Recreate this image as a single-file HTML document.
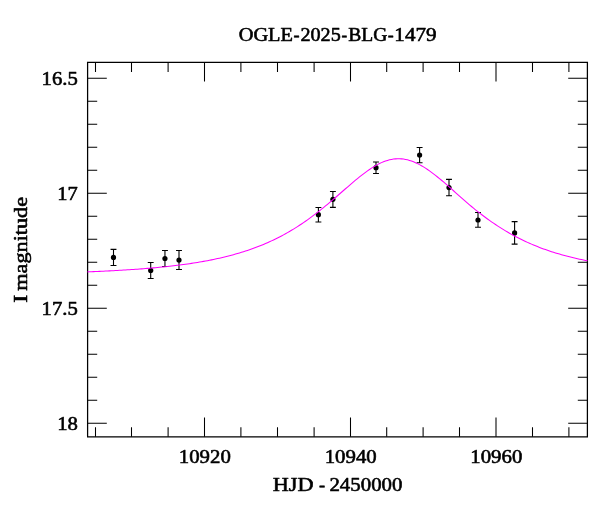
<!DOCTYPE html>
<html><head><meta charset="utf-8"><title>OGLE-2025-BLG-1479</title>
<style>
html,body{margin:0;padding:0;background:#fff;}
body{width:600px;height:512px;overflow:hidden;}
svg{display:block;will-change:transform;}
text{font-family:"Liberation Serif",serif;font-size:18.9px;fill:#000;stroke:#000;stroke-width:0.58px;stroke-linejoin:round;}
</style></head><body>
<svg width="600" height="512" viewBox="0 0 600 512">
<g stroke="#000" stroke-width="1.05" fill="none">
<path d="M87.6 62.3H587.4V436.75H87.6Z" stroke-width="1.25" stroke-linejoin="miter"/>
<path d="M95.5 436.75v-9.6M95.5 62.3v9.6"/>
<path d="M131.5 436.75v-9.6M131.5 62.3v9.6"/>
<path d="M168.1 436.75v-9.6M168.1 62.3v9.6"/>
<path d="M204.5 436.75v-19.2M204.5 62.3v19.2"/>
<path d="M240.9 436.75v-9.6M240.9 62.3v9.6"/>
<path d="M277.5 436.75v-9.6M277.5 62.3v9.6"/>
<path d="M314.1 436.75v-9.6M314.1 62.3v9.6"/>
<path d="M350.5 436.75v-19.2M350.5 62.3v19.2"/>
<path d="M386.7 436.75v-9.6M386.7 62.3v9.6"/>
<path d="M423.1 436.75v-9.6M423.1 62.3v9.6"/>
<path d="M459.5 436.75v-9.6M459.5 62.3v9.6"/>
<path d="M496.0 436.75v-19.2M496.0 62.3v19.2"/>
<path d="M532.5 436.75v-9.6M532.5 62.3v9.6"/>
<path d="M568.9 436.75v-9.6M568.9 62.3v9.6"/>
<path d="M87.6 78.3h19.2M587.4 78.3h-19.2"/>
<path d="M87.6 101.3h9.6M587.4 101.3h-9.6"/>
<path d="M87.6 124.3h9.6M587.4 124.3h-9.6"/>
<path d="M87.6 147.3h9.6M587.4 147.3h-9.6"/>
<path d="M87.6 170.3h9.6M587.4 170.3h-9.6"/>
<path d="M87.6 193.3h19.2M587.4 193.3h-19.2"/>
<path d="M87.6 216.3h9.6M587.4 216.3h-9.6"/>
<path d="M87.6 239.3h9.6M587.4 239.3h-9.6"/>
<path d="M87.6 262.3h9.6M587.4 262.3h-9.6"/>
<path d="M87.6 285.3h9.6M587.4 285.3h-9.6"/>
<path d="M87.6 308.3h19.2M587.4 308.3h-19.2"/>
<path d="M87.6 331.3h9.6M587.4 331.3h-9.6"/>
<path d="M87.6 354.3h9.6M587.4 354.3h-9.6"/>
<path d="M87.6 377.3h9.6M587.4 377.3h-9.6"/>
<path d="M87.6 400.3h9.6M587.4 400.3h-9.6"/>
<path d="M87.6 423.3h19.2M587.4 423.3h-19.2"/>
</g>
<g stroke="#000" stroke-width="1.1" fill="none">
<path d="M113.5 249.4V265.45M110.55 249.4h5.9M110.55 265.45h5.9"/>
<path d="M150.7 262.5V278.5M147.75 262.5h5.9M147.75 278.5h5.9"/>
<path d="M164.95 250.5V266.5M162.0 250.5h5.9M162.0 266.5h5.9"/>
<path d="M179.0 250.5V269.5M176.05 250.5h5.9M176.05 269.5h5.9"/>
<path d="M318.4 207.5V222.0M315.45 207.5h5.9M315.45 222.0h5.9"/>
<path d="M332.9 191.5V207.35M329.95 191.5h5.9M329.95 207.35h5.9"/>
<path d="M376.0 162.0V173.5M373.05 162.0h5.9M373.05 173.5h5.9"/>
<path d="M419.6 147.45V162.7M416.65000000000003 147.45h5.9M416.65000000000003 162.7h5.9"/>
<path d="M449.0 179.4V195.7M446.05 179.4h5.9M446.05 195.7h5.9"/>
<path d="M478.0 212.5V227.3M475.05 212.5h5.9M475.05 227.3h5.9"/>
<path d="M514.6 221.6V244.1M511.65000000000003 221.6h5.9M511.65000000000003 244.1h5.9"/>
</g>
<g fill="#000">
<circle cx="113.5" cy="257.45" r="2.6"/>
<circle cx="150.7" cy="270.45" r="2.6"/>
<circle cx="164.95" cy="258.5" r="2.6"/>
<circle cx="179.0" cy="260.1" r="2.6"/>
<circle cx="318.4" cy="214.7" r="2.6"/>
<circle cx="332.9" cy="199.3" r="2.6"/>
<circle cx="376.0" cy="167.7" r="2.6"/>
<circle cx="419.6" cy="155.1" r="2.6"/>
<circle cx="449.0" cy="187.6" r="2.6"/>
<circle cx="478.0" cy="220.0" r="2.6"/>
<circle cx="514.6" cy="232.9" r="2.6"/>
</g>
<path d="M87.5 271.86 L89.5 271.79 L91.5 271.70 L93.5 271.62 L95.5 271.54 L97.5 271.45 L99.5 271.36 L101.5 271.27 L103.5 271.18 L105.5 271.08 L107.5 270.98 L109.5 270.88 L111.5 270.78 L113.5 270.67 L115.5 270.56 L117.5 270.45 L119.5 270.34 L121.5 270.22 L123.5 270.10 L125.5 269.98 L127.5 269.85 L129.5 269.72 L131.5 269.59 L133.5 269.45 L135.5 269.31 L137.5 269.17 L139.5 269.02 L141.5 268.87 L143.5 268.71 L145.5 268.55 L147.5 268.39 L149.5 268.22 L151.5 268.04 L153.5 267.87 L155.5 267.68 L157.5 267.50 L159.5 267.30 L161.5 267.10 L163.5 266.90 L165.5 266.69 L167.5 266.48 L169.5 266.25 L171.5 266.03 L173.5 265.79 L175.5 265.55 L177.5 265.31 L179.5 265.05 L181.5 264.79 L183.5 264.53 L185.5 264.25 L187.5 263.97 L189.5 263.67 L191.5 263.38 L193.5 263.07 L195.5 262.75 L197.5 262.42 L199.5 262.09 L201.5 261.74 L203.5 261.39 L205.5 261.03 L207.5 260.65 L209.5 260.26 L211.5 259.87 L213.5 259.46 L215.5 259.04 L217.5 258.61 L219.5 258.16 L221.5 257.71 L223.5 257.24 L225.5 256.75 L227.5 256.25 L229.5 255.74 L231.5 255.21 L233.5 254.67 L235.5 254.11 L237.5 253.54 L239.5 252.95 L241.5 252.34 L243.5 251.72 L245.5 251.08 L247.5 250.42 L249.5 249.74 L251.5 249.04 L253.5 248.32 L255.5 247.58 L257.5 246.82 L259.5 246.04 L261.5 245.24 L263.5 244.42 L265.5 243.57 L267.5 242.70 L269.5 241.81 L271.5 240.89 L273.5 239.95 L275.5 238.98 L277.5 237.99 L279.5 236.97 L281.5 235.93 L283.5 234.86 L285.5 233.76 L287.5 232.63 L289.5 231.48 L291.5 230.30 L293.5 229.09 L295.5 227.85 L297.5 226.59 L299.5 225.29 L301.5 223.97 L303.5 222.61 L305.5 221.23 L307.5 219.82 L309.5 218.38 L311.5 216.92 L313.5 215.43 L315.5 213.91 L317.5 212.36 L319.5 210.79 L321.5 209.20 L323.5 207.58 L325.5 205.94 L327.5 204.28 L329.5 202.61 L331.5 200.91 L333.5 199.20 L335.5 197.48 L337.5 195.75 L339.5 194.01 L341.5 192.26 L343.5 190.52 L345.5 188.77 L347.5 187.03 L349.5 185.30 L351.5 183.59 L353.5 181.89 L355.5 180.21 L357.5 178.56 L359.5 176.93 L361.5 175.35 L363.5 173.81 L365.5 172.31 L367.5 170.86 L369.5 169.48 L371.5 168.15 L373.5 166.89 L375.5 165.71 L377.5 164.60 L379.5 163.57 L381.5 162.64 L383.5 161.79 L385.5 161.05 L387.5 160.40 L389.5 159.85 L391.5 159.41 L393.5 159.08 L395.5 158.86 L397.5 158.75 L399.5 158.75 L401.5 158.86 L403.5 159.09 L405.5 159.42 L407.5 159.86 L409.5 160.41 L411.5 161.06 L413.5 161.81 L415.5 162.66 L417.5 163.60 L419.5 164.62 L421.5 165.73 L423.5 166.92 L425.5 168.18 L427.5 169.51 L429.5 170.90 L431.5 172.34 L433.5 173.84 L435.5 175.39 L437.5 176.97 L439.5 178.59 L441.5 180.25 L443.5 181.94 L445.5 183.66 L447.5 185.41 L449.5 187.17 L451.5 188.95 L453.5 190.74 L455.5 192.53 L457.5 194.32 L459.5 196.11 L461.5 197.89 L463.5 199.65 L465.5 201.40 L467.5 203.13 L469.5 204.83 L471.5 206.51 L473.5 208.17 L475.5 209.79 L477.5 211.38 L479.5 212.95 L481.5 214.49 L483.5 216.01 L485.5 217.50 L487.5 218.97 L489.5 220.41 L491.5 221.81 L493.5 223.19 L495.5 224.55 L497.5 225.87 L499.5 227.16 L501.5 228.43 L503.5 229.67 L505.5 230.88 L507.5 232.06 L509.5 233.21 L511.5 234.34 L513.5 235.43 L515.5 236.50 L517.5 237.55 L519.5 238.57 L521.5 239.56 L523.5 240.52 L525.5 241.46 L527.5 242.38 L529.5 243.27 L531.5 244.14 L533.5 244.99 L535.5 245.81 L537.5 246.61 L539.5 247.39 L541.5 248.15 L543.5 248.89 L545.5 249.61 L547.5 250.30 L549.5 250.98 L551.5 251.64 L553.5 252.28 L555.5 252.91 L557.5 253.51 L559.5 254.10 L561.5 254.68 L563.5 255.23 L565.5 255.78 L567.5 256.30 L569.5 256.81 L571.5 257.31 L573.5 257.80 L575.5 258.27 L577.5 258.72 L579.5 259.17 L581.5 259.60 L583.5 260.02 L585.5 260.43 L587.5 260.82" fill="none" stroke="#ff00ff" stroke-width="1.05"/>
<text x="238.73" y="40.7" textLength="54.25" lengthAdjust="spacingAndGlyphs">OGLE</text>
<text x="293.52" y="40.7" textLength="6.06" lengthAdjust="spacingAndGlyphs">-</text>
<text x="300.44" y="40.7" textLength="40.32" lengthAdjust="spacingAndGlyphs">2025</text>
<text x="341.56" y="40.7" textLength="5.68" lengthAdjust="spacingAndGlyphs">-</text>
<text x="348.27" y="40.7" textLength="39.06" lengthAdjust="spacingAndGlyphs">BLG</text>
<text x="387.73" y="40.7" textLength="5.94" lengthAdjust="spacingAndGlyphs">-</text>
<text x="394.39" y="40.7" textLength="42.21" lengthAdjust="spacingAndGlyphs">1479</text>
<text x="272.80" y="490.75" textLength="40.69" lengthAdjust="spacingAndGlyphs">HJD</text>
<text x="319.01" y="490.75" textLength="6.13" lengthAdjust="spacingAndGlyphs">-</text>
<text x="329.41" y="490.75" textLength="73.03" lengthAdjust="spacingAndGlyphs">2450000</text>
<text x="41.63" y="85.05" textLength="36.23" lengthAdjust="spacingAndGlyphs">16.5</text>
<text x="57.25" y="200.05" textLength="20.51" lengthAdjust="spacingAndGlyphs">17</text>
<text x="41.63" y="315.05" textLength="36.23" lengthAdjust="spacingAndGlyphs">17.5</text>
<text x="57.22" y="430.05" textLength="20.76" lengthAdjust="spacingAndGlyphs">18</text>
<text x="178.82" y="462.7" textLength="52.02" lengthAdjust="spacingAndGlyphs">10920</text>
<text x="324.72" y="462.7" textLength="52.02" lengthAdjust="spacingAndGlyphs">10940</text>
<text x="470.32" y="462.7" textLength="52.02" lengthAdjust="spacingAndGlyphs">10960</text>
<g transform="translate(26.55 0) rotate(-90)">
<text x="-302.80" y="0" textLength="7.99" lengthAdjust="spacingAndGlyphs">I</text>
<text x="-290.68" y="0" textLength="93.69" lengthAdjust="spacingAndGlyphs">magnitude</text>
</g>
</svg></body></html>
